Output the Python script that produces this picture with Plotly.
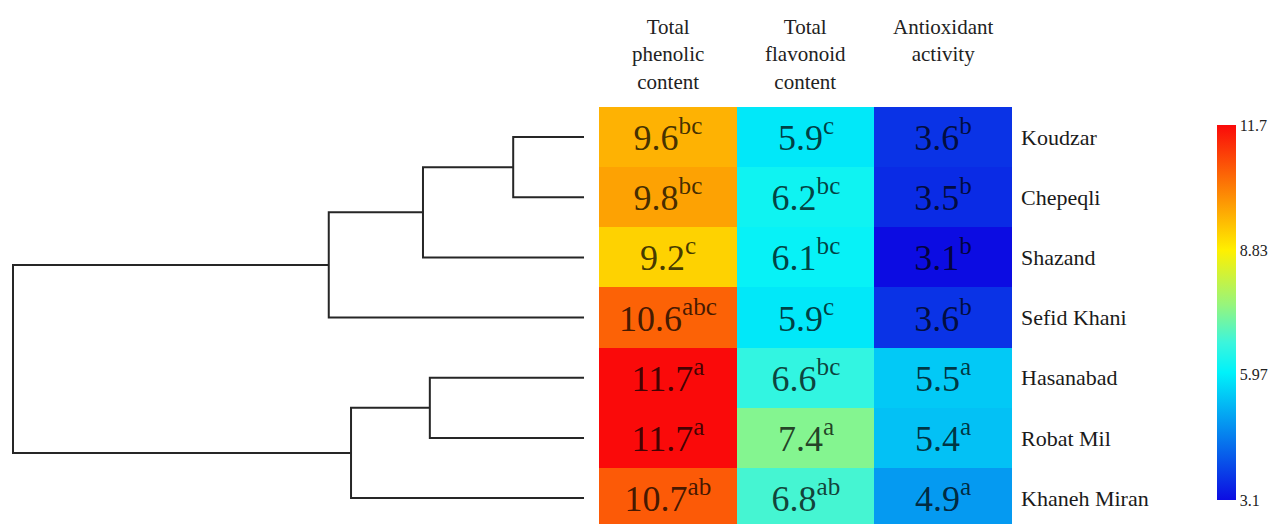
import plotly.graph_objects as go

# Sites (heatmap rows, top to bottom)
sites = ["Koudzar", "Chepeqli", "Shazand", "Sefid Khani",
         "Hasanabad", "Robat Mil", "Khaneh Miran"]

# Trait columns
traits = ["Total<br>phenolic<br>content", "Total<br>flavonoid<br>content",
          "Antioxidant<br>activity"]

phenolic = [9.6, 9.8, 9.2, 10.6, 11.7, 11.7, 10.7]
phenolic_grp = ["bc", "bc", "c", "abc", "a", "a", "ab"]
flavonoid = [5.9, 6.2, 6.1, 5.9, 6.6, 7.4, 6.8]
flavonoid_grp = ["c", "bc", "bc", "c", "bc", "a", "ab"]
antioxidant = [3.6, 3.5, 3.1, 3.6, 5.5, 5.4, 4.9]
antioxidant_grp = ["b", "b", "b", "b", "a", "a", "a"]

# Hierarchical clustering merges: (child a, child b, height); new clusters get ids 7, 8, ...
linkage = [
    (0, 1, 1.24),
    (7, 2, 2.82),
    (8, 3, 4.47),
    (4, 5, 2.70),
    (10, 6, 4.08),
    (9, 11, 10.0),
]

colorbar_ticks = [11.7, 8.83, 5.97, 3.1]
zmin, zmax = 3.1, 11.7

SERIF = "Liberation Serif, Times New Roman, Times, serif"

W, H = 1277, 524
top_px = 107
row_px = 60.17

# ---- heatmap matrix ----
columns = [phenolic, flavonoid, antioxidant]
groups = [phenolic_grp, flavonoid_grp, antioxidant_grp]
z = [[columns[c][r] for c in range(3)] for r in range(len(sites))]
txt = [[f"{columns[c][r]}<sup>{groups[c][r]}</sup>" for c in range(3)]
       for r in range(len(sites))]

jet_like = [
    [0.0, "rgb(12,12,226)"],
    [0.34, "rgb(0,242,250)"],
    [0.42, "rgb(60,245,220)"],
    [0.52, "rgb(150,245,125)"],
    [0.666, "rgb(255,240,0)"],
    [1.0, "rgb(250,10,10)"],
]

fig = go.Figure()

fig.add_trace(go.Heatmap(
    z=z, x=[0, 1, 2], y=list(range(len(sites))),
    text=txt, texttemplate="%{text}",
    textfont=dict(family=SERIF, size=36, color="rgba(0,0,0,0.74)"),
    colorscale=jet_like, zmin=zmin, zmax=zmax,
    xaxis="x", yaxis="y",
    colorbar=dict(
        thickness=19, thicknessmode="pixels",
        len=375, lenmode="pixels",
        x=1217 / W, xanchor="left", xpad=0,
        y=(H - 500) / (H - top_px), yanchor="bottom", ypad=0,
        outlinewidth=0,
        tickvals=colorbar_ticks, ticktext=[str(t) for t in colorbar_ticks],
        ticks="", tickfont=dict(family=SERIF, size=16, color="#222"),
    ),
    hoverongaps=False,
))

# ---- dendrogram ----
pos = {i: (0.0, float(i)) for i in range(len(sites))}
xs, ys = [], []
for k, (a, b, h) in enumerate(linkage):
    ha, ya = pos[a]
    hb, yb = pos[b]
    xs += [ha, h, h, hb, None]
    ys += [ya, ya, yb, yb, None]
    pos[len(sites) + k] = (h, (ya + yb) / 2)

fig.add_trace(go.Scatter(
    x=xs, y=ys, mode="lines",
    line=dict(color="#262626", width=2),
    xaxis="x2", yaxis="y", hoverinfo="skip", showlegend=False,
))

# pixel geometry of the dendrogram axis: distance 0 at x=584 px, root (10) at x=13 px
px_per_unit = (584 - 13) / 10.0
d_left = 10.0 + 13 / px_per_unit
d_right = -(599 - 584) / px_per_unit

y_bottom = -0.5 + (H - top_px) / row_px

fig.update_layout(
    width=W, height=H,
    margin=dict(l=0, r=0, t=top_px, b=0),
    paper_bgcolor="white", plot_bgcolor="white",
    font=dict(family=SERIF),
    xaxis=dict(domain=[599 / W, 1012 / W], range=[-0.5, 2.5],
               showticklabels=False, showgrid=False, zeroline=False, ticks=""),
    xaxis2=dict(domain=[0, 599 / W], range=[d_left, d_right], anchor="y",
                showticklabels=False, showgrid=False, zeroline=False, ticks=""),
    yaxis=dict(range=[y_bottom, -0.5], anchor="x", side="right",
               tickvals=list(range(len(sites))), ticktext=sites,
               tickfont=dict(family=SERIF, size=22, color="#1a1a1a"),
               ticks="", ticklabelstandoff=8,
               showgrid=False, zeroline=False),
    showlegend=False,
)

# column headers above the heatmap
for c, label in enumerate(traits):
    fig.add_annotation(
        x=c, xref="x", y=1 + (top_px - 13) / (H - top_px), yref="paper",
        yanchor="top", xanchor="center", showarrow=False,
        text=label, align="center",
        font=dict(family=SERIF, size=21, color="#222"),
    )

fig.write_html("out.html")
